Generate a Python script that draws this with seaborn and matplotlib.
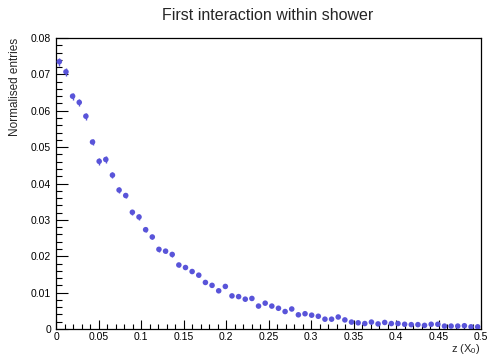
import matplotlib
matplotlib.use('Agg')
import numpy as np
import pandas as pd
import seaborn as sns
import matplotlib.pyplot as plt
from matplotlib.ticker import MultipleLocator, FuncFormatter

# ---- data ----
n_bins = 64
z_lo, z_hi = 0.0, 0.5
entries = [0.0735, 0.0707, 0.0640, 0.0623, 0.0585, 0.0514, 0.0461, 0.0466, 0.0423, 0.0382,
           0.0367, 0.0321, 0.0308, 0.0273, 0.0253, 0.0219, 0.0214, 0.0205, 0.0176, 0.0169,
           0.0158, 0.0148, 0.0128, 0.0120, 0.0105, 0.0117, 0.0091, 0.0089, 0.0082, 0.0084,
           0.0063, 0.0071, 0.0063, 0.0057, 0.0048, 0.0055, 0.0039, 0.0042, 0.0038, 0.0035,
           0.0027, 0.0027, 0.0033, 0.0025, 0.0019, 0.0017, 0.0015, 0.0019, 0.0014, 0.0018,
           0.0015, 0.0015, 0.0013, 0.0012, 0.0012, 0.0010, 0.0013, 0.0013, 0.0008, 0.0008,
           0.0008, 0.0009, 0.0006, 0.0006]
errors = [0.0011, 0.0011, 0.0010, 0.0010, 0.0010, 0.0009, 0.0009, 0.0009, 0.0008, 0.0008,
          0.0008, 0.0007, 0.0007, 0.0007, 0.0006, 0.0006, 0.0006, 0.0006, 0.0005, 0.0005,
          0.0005, 0.0005, 0.0005, 0.0005, 0.0004, 0.0004, 0.0004, 0.0004, 0.0004, 0.0004,
          0.0003, 0.0003, 0.0003, 0.0003, 0.0003, 0.0003, 0.0003, 0.0003, 0.0003, 0.0003,
          0.0002, 0.0002, 0.0002, 0.0002, 0.0002, 0.0002, 0.0002, 0.0002, 0.0002, 0.0002,
          0.0002, 0.0002, 0.0002, 0.0002, 0.0002, 0.0002, 0.0002, 0.0002, 0.0002, 0.0002,
          0.0002, 0.0002, 0.0002, 0.0002]
title = "First interaction within shower"
xlabel = "z (X$_{0}$)"
ylabel = "Normalised entries"

edges = np.linspace(z_lo, z_hi, n_bins + 1)
centers = 0.5 * (edges[:-1] + edges[1:])
df = pd.DataFrame({"z": centers, "n": entries, "err": errors})

sns.set_theme(style="ticks")
plt.rcParams['font.family'] = ['Liberation Sans', 'DejaVu Sans']
plt.rcParams['mathtext.default'] = 'regular'

W, H = 490, 356
fig = plt.figure(figsize=(W / 100, H / 100), dpi=100)
ax = fig.add_axes([56 / W, 1 - 329 / H, 425 / W, 291 / H])

color = "#5954d9"
ax.errorbar(df["z"], df["n"], yerr=df["err"], fmt="none", ecolor=color,
            elinewidth=1.0, capsize=0, zorder=2)
sns.scatterplot(data=df, x="z", y="n", ax=ax, color=color, s=16,
                edgecolor="none", marker="o", zorder=3)

ax.set_xlim(z_lo, z_hi)
ax.set_ylim(0, 0.08)
ax.set_xlabel("")
ax.set_ylabel("")
ax.xaxis.set_major_locator(MultipleLocator(0.05))
ax.xaxis.set_minor_locator(MultipleLocator(0.01))
ax.yaxis.set_major_locator(MultipleLocator(0.01))
ax.yaxis.set_minor_locator(MultipleLocator(0.002))
fmt = FuncFormatter(lambda v, p: "%g" % round(v, 4))
ax.xaxis.set_major_formatter(fmt)
ax.yaxis.set_major_formatter(fmt)

for sp in ax.spines.values():
    sp.set_visible(True)
    sp.set_linewidth(0.9)
    sp.set_color("black")
ax.tick_params(axis="both", which="both", direction="in", width=0.8, colors="black",
               labelsize=7.5, top=False, right=False)
ax.tick_params(axis="x", which="major", length=6.5, pad=2.0)
ax.tick_params(axis="x", which="minor", length=3.3)
ax.tick_params(axis="y", which="major", length=8.6, pad=3.5)
ax.tick_params(axis="y", which="minor", length=4.3)

fig.text(268 / W, 1 - 15 / H, title, ha="center", va="center", fontsize=11.5)
fig.text(481 / W, 1 - 348.5 / H, xlabel, ha="right", va="center", fontsize=8)
fig.text(15 / W, 1 - 38 / H, ylabel, rotation=90, ha="center", va="top", fontsize=8.5)

fig.savefig("out.png", dpi=100)
